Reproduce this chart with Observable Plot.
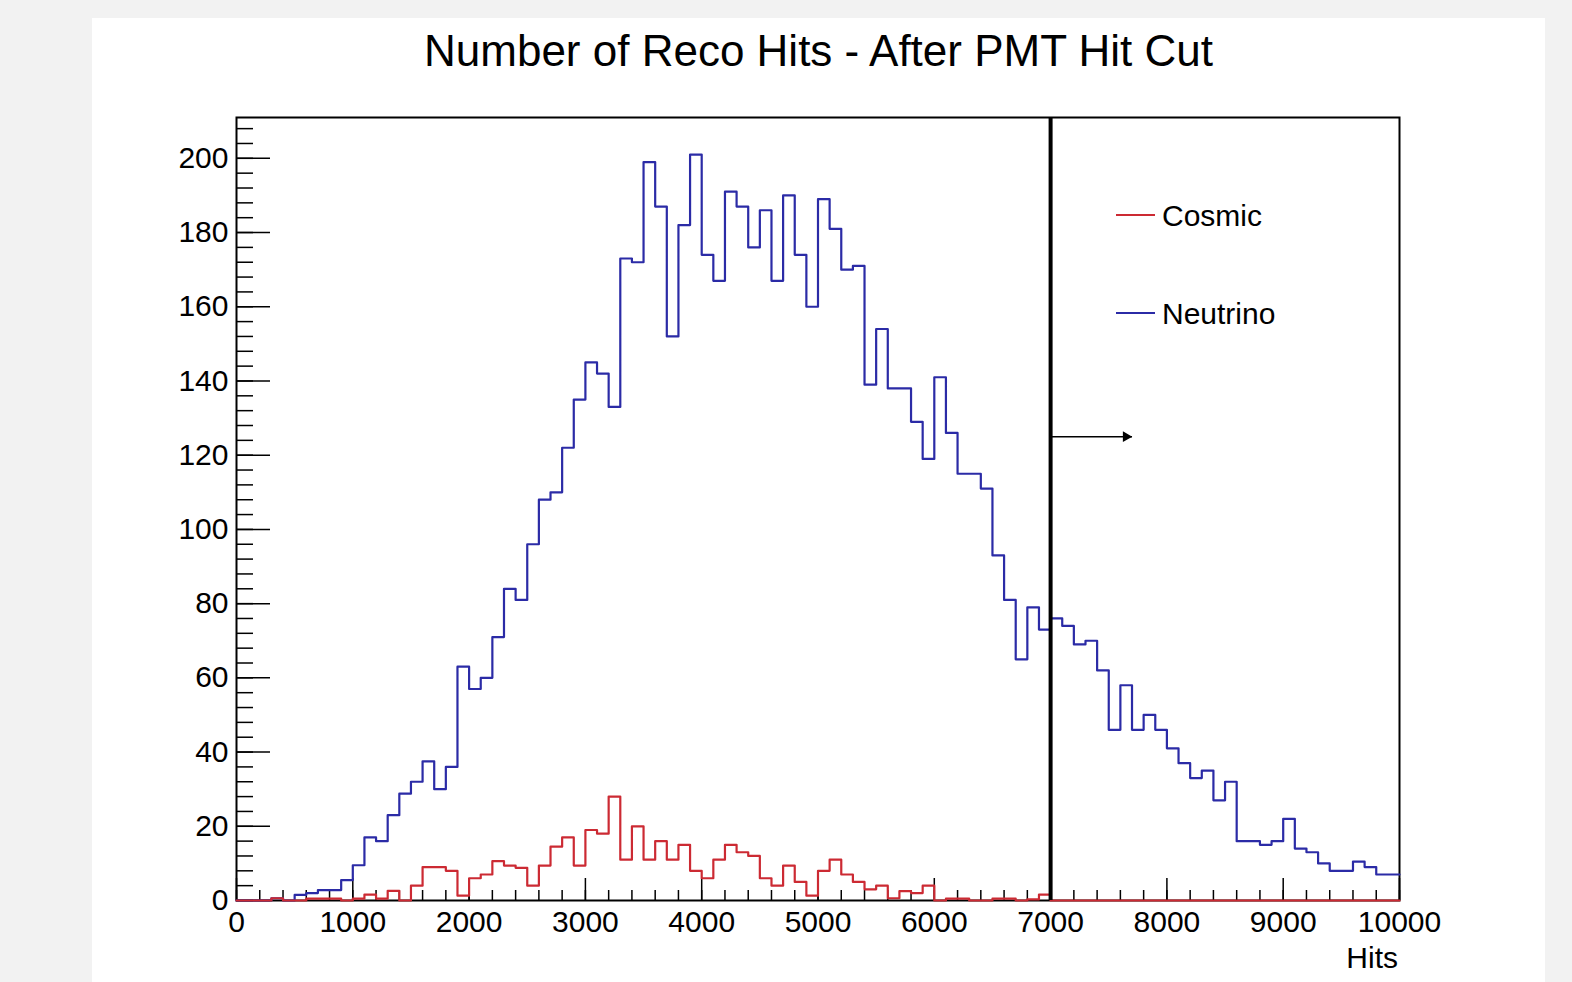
<!DOCTYPE html>
<html>
<head>
<meta charset="utf-8">
<script src="https://cdn.jsdelivr.net/npm/d3@7"></script>
<script src="https://cdn.jsdelivr.net/npm/@observablehq/plot@0.6"></script>
<style>
  html, body { margin: 0; padding: 0; }
  body { width: 1572px; height: 982px; overflow: hidden; background: #f2f2f2; position: relative;
         font-family: "Liberation Sans", Arial, Helvetica, sans-serif; color: #000; }
  #panel { position: absolute; left: 92px; top: 18px; width: 1453px; height: 964px; background: #fff; }
  #title { position: absolute; left: 0; top: 11px; width: 100%; text-align: center; font-size: 44px; line-height: 44px; }
  #chart { position: absolute; left: 0; top: 80px; }
  .lg { position: absolute; font-size: 30px; line-height: 30px; white-space: nowrap; }
  .lgline { position: absolute; height: 0; border-top: 2px solid; width: 39px; }
  #xlabel { position: absolute; font-size: 30px; line-height: 30px; text-align: right; width: 200px; }
</style>
</head>
<body>
<div id="panel">
  <div id="title">Number of Reco Hits - After PMT Hit Cut</div>
  <div id="chart"></div>
</div>
<div class="lgline" id="lgCosLine" style="left:1116px; top:214px;"></div>
<div class="lg" style="left:1162px; top:201px;">Cosmic</div>
<div class="lgline" id="lgNuLine" style="left:1116px; top:312px;"></div>
<div class="lg" style="left:1162px; top:299px;">Neutrino</div>
<div id="xlabel" style="left:1198px; top:943px;">Hits</div>
<script>
// ---- data (bin contents, 100 bins of width 100 from 0 to 10000) ----
const binLow = 0;
const binWidth = 100;

const neutrino = [
  0, 0, 0, 0.6, 0, 1.5, 2, 2.8, 2.8, 5.5,
  9.5, 17, 16, 23, 28.8, 32, 37.5, 30, 36, 63,
  57, 60, 71, 84, 81, 96, 108, 110, 122, 135,
  145, 142, 133, 173, 172, 199, 187, 152, 182, 201,
  174, 167, 191, 187, 176, 186, 167, 190, 174, 160,
  189, 181, 170, 171, 139, 154, 138, 138, 129, 119,
  141, 126, 115, 115, 111, 93, 81, 65, 79, 73,
  76, 74, 69, 70, 62, 46, 58, 46, 50, 46,
  41, 37, 33, 35, 27, 32, 16, 16, 15, 16,
  22, 14, 13, 10, 8, 8, 10.5, 9, 7, 7
];

const cosmic = [
  0, 0, 0, 0.6, 0, 0, 0.5, 0.5, 0.5, 0,
  0.5, 1.6, 0.5, 2.6, 0, 4, 9, 9, 8, 1.3,
  6, 7, 10.6, 9.4, 8.8, 4, 9.4, 14.5, 17, 9.4,
  19, 18, 28, 11, 20, 11, 16, 11, 15, 8,
  6, 11, 15, 13, 12, 6, 4, 9.4, 5, 1.3,
  8, 11, 7, 5, 3, 4, 0.6, 2.5, 2, 4,
  0, 0.5, 0.5, 0, 0, 0.5, 0.5, 0, 0.3, 1.6,
  0, 0, 0, 0, 0, 0, 0, 0, 0, 0,
  0, 0, 0, 0, 0, 0, 0, 0, 0, 0,
  0, 0, 0, 0, 0, 0, 0, 0, 0, 0
];

const xTicks = [0, 1000, 2000, 3000, 4000, 5000, 6000, 7000, 8000, 9000, 10000];
const yTicks = [0, 20, 40, 60, 80, 100, 120, 140, 160, 180, 200];
const xMinorStep = 200;
const yMinorStep = 4;
const xMax = 10000;
const yMax = 211;

const cutValue = 7000;      // PMT hit cut
const arrowEnd = 7700;
const arrowLevel = 125;

const colNu = "#2b2ba6";
const colCos = "#cc2a33";

document.getElementById("lgCosLine").style.borderColor = colCos;
document.getElementById("lgNuLine").style.borderColor = colNu;

// ---- build step outlines ----
function steps(vals) {
  const pts = vals.map((v, i) => ({x: binLow + i * binWidth, y: v}));
  pts.push({x: binLow + vals.length * binWidth, y: vals[vals.length - 1]});
  return pts;
}
const nuSteps = steps(neutrino);
const cosSteps = steps(cosmic);

const xMinor = d3.range(0, xMax + 1, xMinorStep);
const yMinor = d3.range(0, yMax, yMinorStep);

const W = 1453, H = 884, mT = 19, mB = 82, mL = 144, mR = 146;
const plotW = W - mL - mR, plotH = H - mT - mB;

const chart = Plot.plot({
  width: W, height: H,
  marginTop: mT, marginBottom: mB, marginLeft: mL, marginRight: mR,
  style: {fontFamily: '"Liberation Sans", Arial, Helvetica, sans-serif', fontSize: "30px", color: "#000", background: "transparent", overflow: "visible"},
  x: {domain: [0, xMax]},
  y: {domain: [0, yMax]},
  marks: [
    Plot.axisY(yTicks, {tickSize: 0, tickPadding: 8, label: null, tickFormat: "d", fontSize: 30}),
    Plot.axisX(xTicks, {tickSize: 0, tickPadding: 10, label: null, tickFormat: "d", fontSize: 30}),
    Plot.tickY(yMinor, {insetRight: plotW - 17, stroke: "#000", strokeWidth: 1.5}),
    Plot.tickY(yTicks, {insetRight: plotW - 34, stroke: "#000", strokeWidth: 1.5}),
    Plot.tickX(xMinor, {insetTop: plotH - 10, stroke: "#000", strokeWidth: 1.5}),
    Plot.tickX(xTicks, {insetTop: plotH - 22, stroke: "#000", strokeWidth: 1.5}),
    Plot.frame({stroke: "#000", strokeWidth: 2}),
    Plot.line(nuSteps, {x: "x", y: "y", curve: "step-after", stroke: colNu, strokeWidth: 2.2}),
    Plot.line(cosSteps, {x: "x", y: "y", curve: "step-after", stroke: colCos, strokeWidth: 2.2}),
    Plot.ruleX([cutValue], {stroke: "#000", strokeWidth: 4}),
    Plot.link([{x1: cutValue, x2: arrowEnd, y: arrowLevel}], {x1: "x1", x2: "x2", y1: "y", y2: "y", stroke: "#000", strokeWidth: 1.5}),
    Plot.dot([{x: arrowEnd, y: arrowLevel}], {x: "x", y: "y", symbol: "triangle", rotate: 90, r: 4, fill: "#000", stroke: "none", dx: -6})
  ]
});
document.getElementById("chart").appendChild(chart);
</script>
</body>
</html>
